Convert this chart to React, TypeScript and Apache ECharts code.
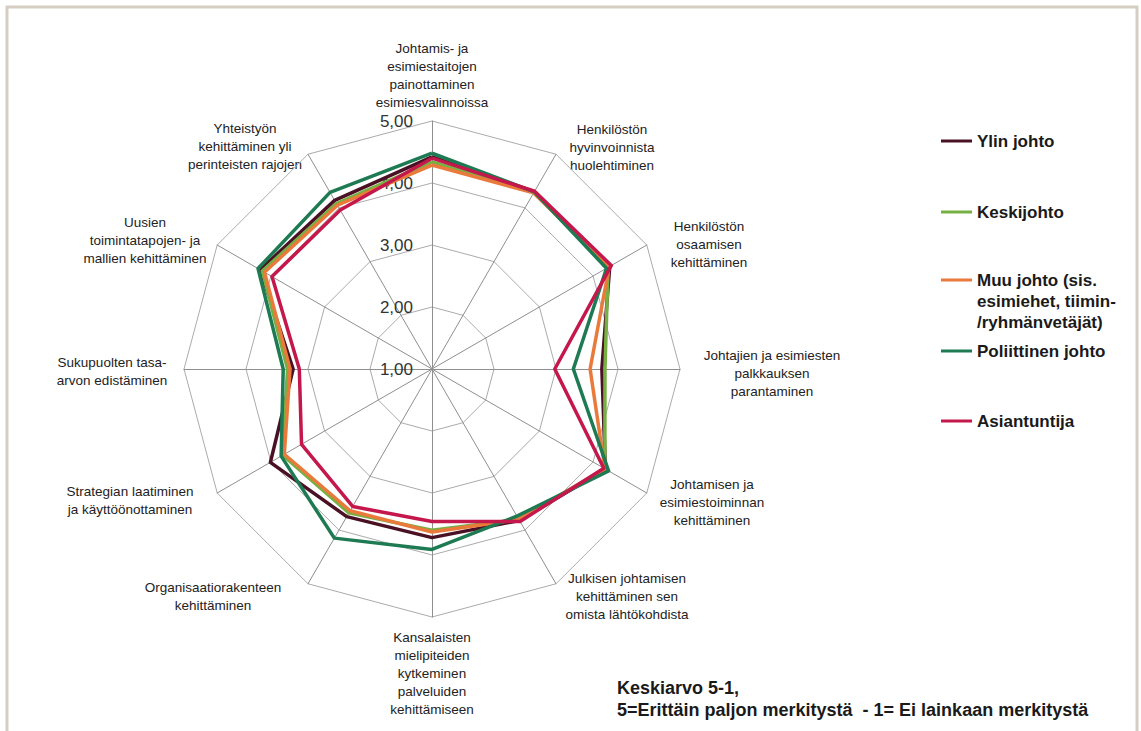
import { useEffect, useRef } from "react";
import * as echarts from "echarts";

// Categories in clockwise order, starting from the top axis
const categories = [
  "Johtamis- ja\nesimiestaitojen\npainottaminen\nesimiesvalinnoissa",
  "Henkilöstön\nhyvinvoinnista\nhuolehtiminen",
  "Henkilöstön\nosaamisen\nkehittäminen",
  "Johtajien ja esimiesten\npalkkauksen\nparantaminen",
  "Johtamisen ja\nesimiestoiminnan\nkehittäminen",
  "Julkisen johtamisen\nkehittäminen sen\nomista lähtökohdista",
  "Kansalaisten\nmielipiteiden\nkytkeminen\npalveluiden\nkehittämiseen",
  "Organisaatiorakenteen\nkehittäminen",
  "Strategian laatiminen\nja käyttöönottaminen",
  "Sukupuolten tasa-\narvon edistäminen",
  "Uusien\ntoimintatapojen- ja\nmallien kehittäminen",
  "Yhteistyön\nkehittäminen yli\nperinteisten rajojen",
];

const seriesNames = [
  "Ylin johto",
  "Keskijohto",
  "Muu johto (sis.\nesimiehet, tiimin-\n/ryhmänvetäjät)",
  "Poliittinen johto",
  "Asiantuntija",
];

const ylinJohto = [4.42, 4.3, 4.31, 3.74, 4.23, 3.82, 3.72, 3.75, 4.01, 3.24, 4.2, 4.14];
const keskijohto = [4.34, 4.29, 4.28, 3.79, 4.22, 3.8, 3.6, 3.68, 3.78, 3.33, 4.16, 4.08];
const muuJohto = [4.29, 4.28, 4.3, 3.55, 4.22, 3.8, 3.63, 3.64, 3.75, 3.29, 4.12, 4.05];
const poliittinenJohto = [4.48, 4.3, 4.25, 3.28, 4.29, 3.74, 3.91, 4.15, 3.81, 3.4, 4.24, 4.29];
const asiantuntija = [4.4, 4.31, 4.34, 2.98, 4.2, 3.84, 3.46, 3.56, 3.43, 3.14, 3.98, 3.96];

const tickLabels = ["1,00", "2,00", "3,00", "4,00", "5,00"];
const axisMin = 1;
const axisMax = 5;

const seriesColors = ["#4a1024", "#76b043", "#ea7a3c", "#1d7a52", "#c4184c"];

// layout: label centres (clockwise order, matching categories)
const labelPos: [number, number][] = [
  [432, 75],
  [612, 147],
  [709, 244],
  [772, 373],
  [712, 502],
  [627, 596],
  [432, 673],
  [213, 596],
  [130, 500],
  [112, 371],
  [145, 240],
  [245, 146],
];
const legendTops = [131, 202, 227.5, 341, 411];

export default function App() {
  const ref = useRef<HTMLDivElement>(null);
  useEffect(() => {
    if (!ref.current) return;
    const chart = echarts.init(ref.current, null, { renderer: "svg" });
    const all = [ylinJohto, keskijohto, muuJohto, poliittinenJohto, asiantuntija];
    const n = categories.length;
    // ECharts radar runs counter-clockwise; map to clockwise reading order
    const order = categories.map((_, i) => (i === 0 ? 0 : n - i));
    const font = "'Liberation Sans', Arial, sans-serif";

    chart.setOption({
      animation: false,
      backgroundColor: "#ffffff",
      radar: {
        center: [432, 369],
        radius: 248,
        startAngle: 90,
        shape: "polygon",
        splitNumber: 4,
        axisName: { show: false },
        axisLine: { lineStyle: { color: "#8f8f8f", width: 1 } },
        splitLine: { lineStyle: { color: "#ababab", width: 1 } },
        splitArea: { show: false },
        axisTick: { show: false },
        axisLabel: { show: false },
        indicator: order.map((i) => ({
          name: categories[i].replace(/\n/g, " "),
          min: axisMin,
          max: axisMax,
          ...(i === 0
            ? {
                axisLabel: {
                  show: true,
                  fontSize: 17,
                  color: "#333",
                  fontFamily: font,
                  margin: 19,
                  formatter: (v: number) => tickLabels[Math.round(v - axisMin)] ?? String(v),
                },
              }
            : {}),
        })),
      },
      legend: seriesNames.map((name, k) => ({
        data: [name],
        left: 941,
        top: legendTops[k],
        orient: "vertical",
        icon: "rect",
        itemWidth: 31,
        itemHeight: 3,
        itemGap: 0,
        padding: 0,
        selectedMode: false,
        formatter: k === 2 ? (nm: string) => "\n\n" + nm : undefined,
        textStyle: {
          fontSize: 17,
          fontWeight: "bold",
          color: "#1a1a1a",
          fontFamily: font,
          lineHeight: k === 2 ? 21 : 20,
        },
      })),
      series: all.map((vals, k) => ({
        type: "radar",
        name: seriesNames[k],
        symbol: "none",
        z: 2 + k,
        lineStyle: { color: seriesColors[k], width: 3.5 },
        itemStyle: { color: seriesColors[k] },
        data: [{ name: seriesNames[k], value: order.map((i) => vals[i]) }],
      })),
      graphic: [
        {
          type: "rect",
          z: -1,
          shape: { x: 7, y: 7, width: 1130, height: 760 },
          style: { fill: "none", stroke: "#d6cec2", lineWidth: 3 },
        },
        ...categories.map((c, i) => ({
          type: "text",
          x: labelPos[i][0],
          y: labelPos[i][1],
          style: {
            text: c,
            fill: "#222",
            font: `13.5px ${font}`,
            lineHeight: 18,
            align: "center",
            verticalAlign: "middle",
          },
        })),
        {
          type: "text",
          x: 617,
          y: 677,
          style: {
            text: "Keskiarvo 5-1,\n5=Erittäin paljon merkitystä  - 1= Ei lainkaan merkitystä",
            fill: "#1a1a1a",
            font: `bold 18px ${font}`,
            lineHeight: 22,
            align: "left",
            verticalAlign: "top",
          },
        },
      ],
    });
    return () => chart.dispose();
  }, []);
  return (
    <div
      ref={ref}
      style={{ position: "absolute", left: 0, top: 0, width: 1141, height: 731 }}
    />
  );
}
